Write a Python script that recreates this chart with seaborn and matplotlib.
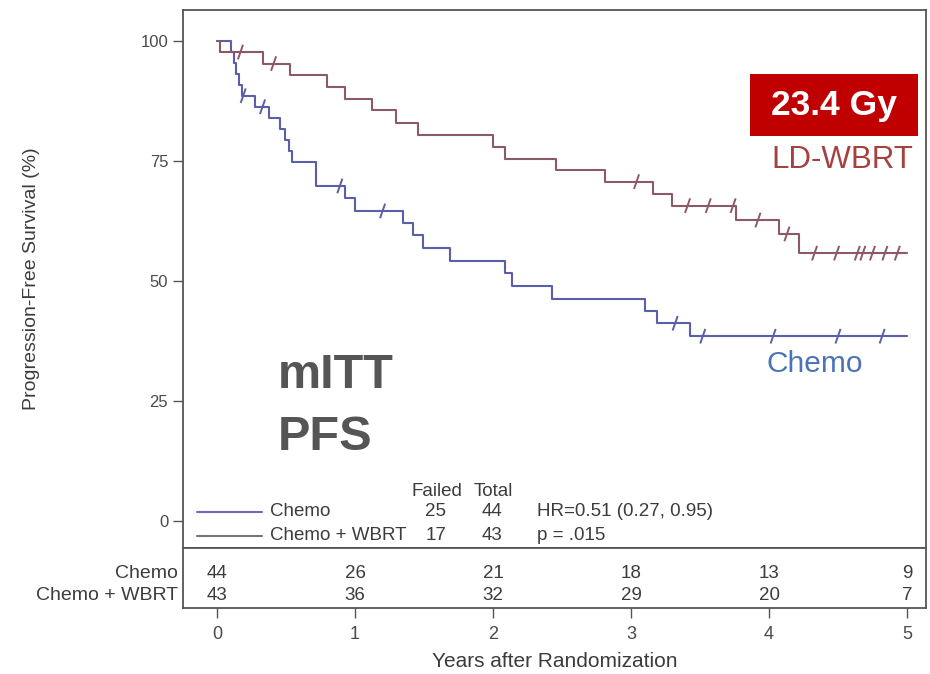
import numpy as np
import pandas as pd
import matplotlib
matplotlib.use("Agg")
import matplotlib.pyplot as plt
from matplotlib.path import Path
from matplotlib.lines import Line2D
from matplotlib.patches import Rectangle
import seaborn as sns

# ---- Kaplan-Meier step data: event times (years) and PFS (%) after each event
chemo_event_years = [0.10, 0.12, 0.14, 0.16, 0.18, 0.275, 0.38, 0.46, 0.49, 0.52,
                     0.54, 0.72, 0.93, 1.00, 1.35, 1.42, 1.49, 1.69, 2.09, 2.14,
                     2.43, 3.10, 3.19, 3.43]
chemo_pfs = [97.7, 95.5, 93.2, 90.9, 88.6, 86.3, 84.0, 81.7, 79.4, 77.1,
             74.8, 69.8, 67.2, 64.6, 62.0, 59.5, 56.9, 54.1, 51.6, 49.0,
             46.3, 43.8, 41.2, 38.5]
chemo_censor_years = [0.19, 0.33, 0.89, 1.20, 3.32, 3.52, 4.03, 4.50, 4.82]

wbrt_event_years = [0.02, 0.33, 0.53, 0.80, 0.93, 1.12, 1.30, 1.46, 2.00, 2.09,
                    2.46, 2.81, 3.16, 3.30, 3.76, 4.07, 4.22]
wbrt_pfs = [97.7, 95.3, 92.9, 90.4, 88.0, 85.6, 83.0, 80.5, 78.0, 75.5,
            73.1, 70.7, 68.2, 65.7, 62.7, 59.8, 55.8]
wbrt_censor_years = [0.17, 0.41, 3.04, 3.41, 3.56, 3.74, 3.92, 4.13, 4.33, 4.49,
                     4.64, 4.68, 4.75, 4.84, 4.93]

follow_up_end = 5.0

# ---- numbers at risk
risk_years = [0, 1, 2, 3, 4, 5]
chemo_at_risk = [44, 26, 21, 18, 13, 9]
wbrt_at_risk = [43, 36, 32, 29, 20, 7]

arm_names = ["Chemo", "Chemo + WBRT"]
failed = [25, 17]
total = [44, 43]
hr_text = "HR=0.51 (0.27, 0.95)"
p_text = "p = .015"

arm_colors = {"Chemo": "#5b5ea8", "Chemo + WBRT": "#8c5a64"}
legend_colors = {"Chemo": "#6b6db8", "Chemo + WBRT": "#7a7474"}


def step_frame(arm, times, pfs):
    t = [0.0] + list(times) + [follow_up_end]
    s = [100.0] + list(pfs) + [pfs[-1]]
    return pd.DataFrame({"years": t, "pfs": s, "arm": arm})


def censor_frame(arm, times, pfs, censor):
    levels = np.array([100.0] + list(pfs))
    idx = np.searchsorted(np.array(times), np.array(censor), side="right")
    return pd.DataFrame({"years": censor, "pfs": levels[idx], "arm": arm})


curves = pd.concat([step_frame("Chemo", chemo_event_years, chemo_pfs),
                    step_frame("Chemo + WBRT", wbrt_event_years, wbrt_pfs)],
                   ignore_index=True)
censors = pd.concat([censor_frame("Chemo", chemo_event_years, chemo_pfs, chemo_censor_years),
                     censor_frame("Chemo + WBRT", wbrt_event_years, wbrt_pfs, wbrt_censor_years)],
                    ignore_index=True)

sns.set_theme(style="white")
plt.rcParams["font.family"] = ["Liberation Sans", "DejaVu Sans"]

W, H = 930, 674
fig = plt.figure(figsize=(W / 100, H / 100), dpi=100)
fig.patch.set_facecolor("white")

frame_col = "#555555"
text_col = "#3c3c3c"

# axes geometry (pixels)
left_px, right_px = 183, 926
top_px, mid_px, bot_px = 10, 548, 608
x0_px, px_per_year = 217, 138.0
y0_px, px_per_pct = 521, 4.8

xlim = ((left_px - x0_px) / px_per_year, (right_px - x0_px) / px_per_year)
ylim = ((y0_px - mid_px) / px_per_pct, (y0_px - top_px) / px_per_pct)

ax = fig.add_axes([left_px / W, 1 - mid_px / H, (right_px - left_px) / W, (mid_px - top_px) / H])
rax = fig.add_axes([left_px / W, 1 - bot_px / H, (right_px - left_px) / W, (bot_px - mid_px) / H])

# ---- survival curves
sns.lineplot(data=curves, x="years", y="pfs", hue="arm", palette=arm_colors,
             drawstyle="steps-post", estimator=None, sort=False, legend=False,
             linewidth=1.5, ax=ax)

tick_marker = Path([(-0.35, -1.0), (0.35, 1.0)], [Path.MOVETO, Path.LINETO])
for arm in arm_names:
    sub = censors[censors["arm"] == arm]
    sns.scatterplot(data=sub, x="years", y="pfs", marker=tick_marker, s=110,
                    linewidth=1.4, legend=False, ax=ax, color=arm_colors[arm])
    coll = ax.collections[-1]
    coll.set_facecolor("none")
    coll.set_edgecolor(arm_colors[arm])

ax.set_xlim(*xlim)
ax.set_ylim(*ylim)
ax.set_xticks([])
ax.set_yticks([0, 25, 50, 75, 100])
ax.tick_params(axis="y", left=True, direction="out", length=7.2, width=1.0,
               color=frame_col, pad=3.5, labelsize=12, labelcolor="#4a4a4a")
ax.set_xlabel("")
ax.set_ylabel("Progression-Free Survival (%)", fontsize=14, color=text_col)
ax.yaxis.set_label_coords((40 - left_px) / (right_px - left_px), 0.5)
for sp in ax.spines.values():
    sp.set_color(frame_col)
    sp.set_linewidth(1.3)

# ---- legend with event counts
def dy(py):
    return (y0_px - py) / px_per_pct


def dx(px):
    return (px - x0_px) / px_per_year


small = 13.5
ax.text(dx(437), dy(492), "Failed", fontsize=small, color=text_col, ha="center", va="center")
ax.text(dx(493), dy(492), "Total", fontsize=small, color=text_col, ha="center", va="center")
for i, (arm, yy) in enumerate(zip(arm_names, [512, 536])):
    ax.add_line(Line2D([dx(197), dx(262)], [dy(yy), dy(yy)], color=legend_colors[arm], lw=1.5))
    ax.text(dx(270), dy(yy), arm, fontsize=small, color=text_col, ha="left", va="center")
    ax.text(dx(436), dy(yy), str(failed[i]), fontsize=small, color=text_col, ha="center", va="center")
    ax.text(dx(492), dy(yy), str(total[i]), fontsize=small, color=text_col, ha="center", va="center")
ax.text(dx(537), dy(512), hr_text, fontsize=small, color=text_col, ha="left", va="center")
ax.text(dx(537), dy(536), p_text, fontsize=small, color=text_col, ha="left", va="center")

# ---- annotations
ax.text(dx(278), dy(375), "mITT", fontsize=35, fontweight="bold", color="#555555",
        ha="left", va="center")
ax.text(dx(278), dy(437), "PFS", fontsize=35, fontweight="bold", color="#555555",
        ha="left", va="center")
ax.text(dx(842), dy(160), "LD-WBRT", fontsize=22.5, color="#a5423f", ha="center", va="center")
ax.text(dx(815), dy(364), "Chemo", fontsize=21.5, color="#4a74b6", ha="center", va="center")

fig.patches.append(Rectangle((750 / W, 1 - 136 / H), 168 / W, 62 / H,
                             transform=fig.transFigure, facecolor="#c00000",
                             edgecolor="none", zorder=5))
fig.text(834 / W, 1 - 106 / H, "23.4 Gy", fontsize=25.5, fontweight="bold", color="white",
         ha="center", va="center", zorder=6)

# ---- numbers at risk table
rax.set_xlim(*xlim)
rax.set_ylim(0, 1)
rax.set_yticks([])
rax.set_xticks(risk_years)
rax.tick_params(axis="x", bottom=True, direction="out", length=7.2, width=1.0,
                color=frame_col, pad=6, labelsize=13, labelcolor="#4a4a4a")
rax.set_xlabel("Years after Randomization", fontsize=15, color=text_col, labelpad=6)
for sp in rax.spines.values():
    sp.set_color(frame_col)
    sp.set_linewidth(1.3)

row_y = {"Chemo": (bot_px - 573) / (bot_px - mid_px), "Chemo + WBRT": (bot_px - 596) / (bot_px - mid_px)}
lab_x = (178 - left_px) / (right_px - left_px)
for arm, counts in zip(arm_names, [chemo_at_risk, wbrt_at_risk]):
    rax.text(lab_x, row_y[arm], arm, transform=rax.transAxes, fontsize=14,
             color=text_col, ha="right", va="center")
    for yr, n in zip(risk_years, counts):
        rax.text(yr, row_y[arm], str(n), transform=rax.get_xaxis_transform(),
                 fontsize=13.5, color=text_col, ha="center", va="center")

fig.savefig("out.png", dpi=100, facecolor="white")
